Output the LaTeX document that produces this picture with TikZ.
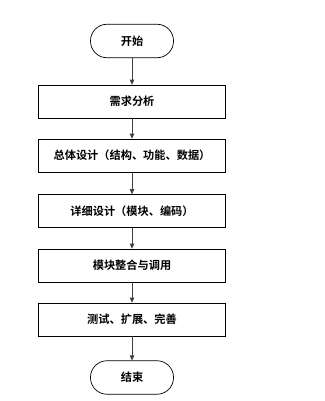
\documentclass[tikz,border=0pt]{standalone}
\usepackage{fontspec}
\newfontfamily\cjk{Noto Sans CJK SC}[BoldFont={Noto Sans CJK SC Bold}]
\usetikzlibrary{arrows.meta}
\begin{document}
\begin{tikzpicture}[x=1pt,y=1pt,
  box/.style={draw=black,line width=0.7pt,minimum width=187.5pt,minimum height=33pt,inner sep=0pt,font=\cjk\bfseries\fontsize{11.2}{13}\selectfont},
  term/.style={draw=black,line width=0.7pt,rounded corners=16.5pt,minimum width=83pt,minimum height=33.5pt,inner sep=0pt,font=\cjk\bfseries\fontsize{11.2}{13}\selectfont},
  arr/.style={draw=black!75,line width=1pt,-{Triangle[length=5pt,width=4.5pt]}}]
\useasboundingbox (0,0) rectangle (324,-401);
\node[term] (s) at (132,-41) {开始};
\node[box] (b1) at (132,-101.5) {需求分析};
\node[box] (b2) at (132,-155.5) {总体设计（结构、功能、数据）};
\node[box] (b3) at (132,-211) {详细设计（模块、编码）};
\node[box] (b4) at (132,-265.5) {模块整合与调用};
\node[box] (b5) at (132,-319.5) {测试、扩展、完善};
\node[term] (e) at (132,-377.5) {结束};
\draw[arr] (s) -- (b1);
\draw[arr] (b1) -- (b2);
\draw[arr] (b2) -- (b3);
\draw[arr] (b3) -- (b4);
\draw[arr] (b4) -- (b5);
\draw[arr] (b5) -- (e);
\end{tikzpicture}
\end{document}
